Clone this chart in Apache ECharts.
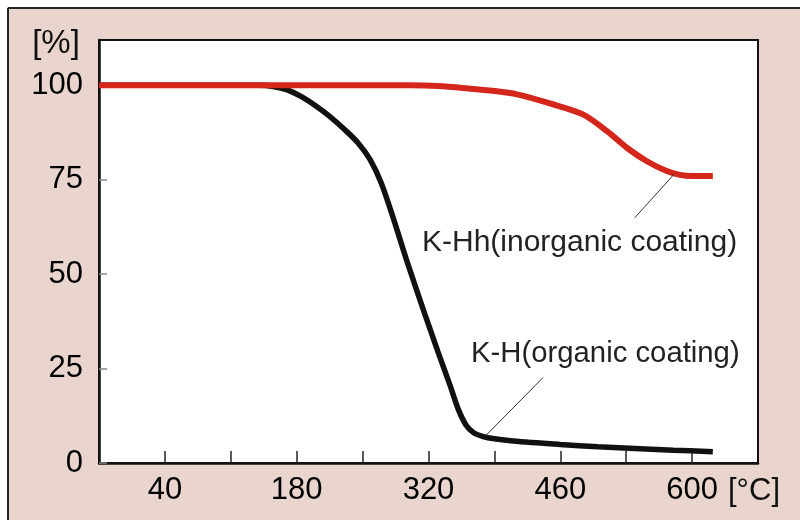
<!DOCTYPE html>
<html>
<head>
<meta charset="utf-8">
<script src="https://cdn.jsdelivr.net/npm/echarts@6/dist/echarts.min.js"></script>
<style>html,body{margin:0;padding:0;background:#fff}#c{width:800px;height:520px}</style>
</head>
<body>
<div id="c"></div>
<script>
// Temperature (°C) and residual mass (%)
var redTemps   = [-30, 100, 200, 300, 330, 361, 390, 414, 449, 484, 510, 531, 552, 573, 587, 600, 622];
var redValues  = [100, 100, 100, 100, 99.8, 99.2, 98.5, 97.6, 95.2, 92.3, 87.8, 83.4, 79.9, 77.3, 76.3, 76.0, 76.0];
var blackTemps = [-30, 100, 140, 155, 170, 185, 200, 215, 230, 245, 258, 270, 283, 297, 316, 330, 343, 352, 360, 368, 378, 390, 410, 460, 500, 545, 580, 622];
var blackValues= [100, 100, 100, 99.7, 98.8, 97.0, 94.6, 91.8, 88.5, 84.8, 80.3, 74.0, 64.5, 53.5, 39.5, 29.5, 20.5, 14.0, 10.0, 8.0, 7.0, 6.4, 5.8, 4.9, 4.3, 3.8, 3.4, 3.0];
var xTickValues  = [40, 110, 180, 250, 320, 390, 460, 530, 600];
var xLabelValues = [40, 180, 320, 460, 600];
var yLabelValues = [0, 25, 50, 75, 100];
var seriesNames = ['K-Hh(inorganic coating)', 'K-H(organic coating)'];
var leaderRed   = [[581, 76.5], [539, 64.9]];
var leaderBlack = [[441.6, 22.6], [381, 7.3]];

function pairs(xs, ys){ return xs.map(function(x,i){ return [x, ys[i]]; }); }

var FONT = '"Liberation Sans", Arial, Helvetica, sans-serif';
var chart = echarts.init(document.getElementById('c'));
chart.setOption({
  backgroundColor: '#e9d5cd',
  animation: false,
  grid: { left: 99, top: 40, right: 42, bottom: 57, show: true, backgroundColor: '#fff', borderColor: '#111', borderWidth: 2 },
  xAxis: {
    type: 'value', min: -30, max: 670,
    axisLine: { show: true, onZero: false, lineStyle: { color: '#111', width: 2.5 } },
    axisTick: { show: true, inside: true, length: 12, customValues: xTickValues, lineStyle: { color: '#222', width: 1.5 } },
    axisLabel: { customValues: xLabelValues, margin: 12, fontSize: 31, color: '#000', fontFamily: FONT },
    splitLine: { show: false }
  },
  yAxis: {
    type: 'value', min: 0, max: 112,
    axisLine: { show: true, onZero: false, lineStyle: { color: '#111', width: 2.5 } },
    axisTick: { show: true, inside: true, length: 8, customValues: yLabelValues, lineStyle: { color: '#888', width: 1.5 } },
    axisLabel: { customValues: yLabelValues, margin: 16, fontSize: 31, color: '#000', fontFamily: FONT },
    splitLine: { show: false }
  },
  series: [
    {
      name: seriesNames[1], type: 'line', data: pairs(blackTemps, blackValues),
      smooth: 0.3, showSymbol: false, lineStyle: { color: '#111', width: 5.5 }, z: 2,
      markLine: { silent: true, symbol: 'none', label: { show: false },
        lineStyle: { color: '#333', width: 1, type: 'solid' },
        data: [[{ coord: leaderBlack[0] }, { coord: leaderBlack[1] }]] }
    },
    {
      name: seriesNames[0], type: 'line', data: pairs(redTemps, redValues),
      smooth: 0.3, showSymbol: false, lineStyle: { color: '#d4261b', width: 6 }, z: 3,
      markLine: { silent: true, symbol: 'none', label: { show: false },
        lineStyle: { color: '#333', width: 1, type: 'solid' },
        data: [[{ coord: leaderRed[0] }, { coord: leaderRed[1] }]] }
    }
  ],
  graphic: [
    { type: 'rect', shape: { x: 0, y: 0, width: 800, height: 7 }, style: { fill: '#fff' }, silent: true },
    { type: 'rect', shape: { x: 0, y: 0, width: 7, height: 520 }, style: { fill: '#fff' }, silent: true },
    { type: 'line', shape: { x1: 8, y1: 8, x2: 800, y2: 8 }, style: { stroke: '#222', lineWidth: 2 }, silent: true },
    { type: 'line', shape: { x1: 8, y1: 8, x2: 8, y2: 520 }, style: { stroke: '#222', lineWidth: 2 }, silent: true },
    { type: 'text', x: 56, y: 44, style: { text: '[%]', fontSize: 33, fontFamily: FONT, fill: '#111', align: 'center', verticalAlign: 'middle' } },
    { type: 'text', x: 728, y: 491, style: { text: '[°C]', fontSize: 31, fontFamily: FONT, fill: '#111', align: 'left', verticalAlign: 'middle' } },
    { type: 'text', x: 422, y: 243, style: { text: seriesNames[0], fontSize: 30, fontFamily: FONT, fill: '#222', align: 'left', verticalAlign: 'middle' } },
    { type: 'text', x: 471, y: 354, style: { text: seriesNames[1], fontSize: 29.3, fontFamily: FONT, fill: '#222', align: 'left', verticalAlign: 'middle' } }
  ]
});
</script>
</body>
</html>
